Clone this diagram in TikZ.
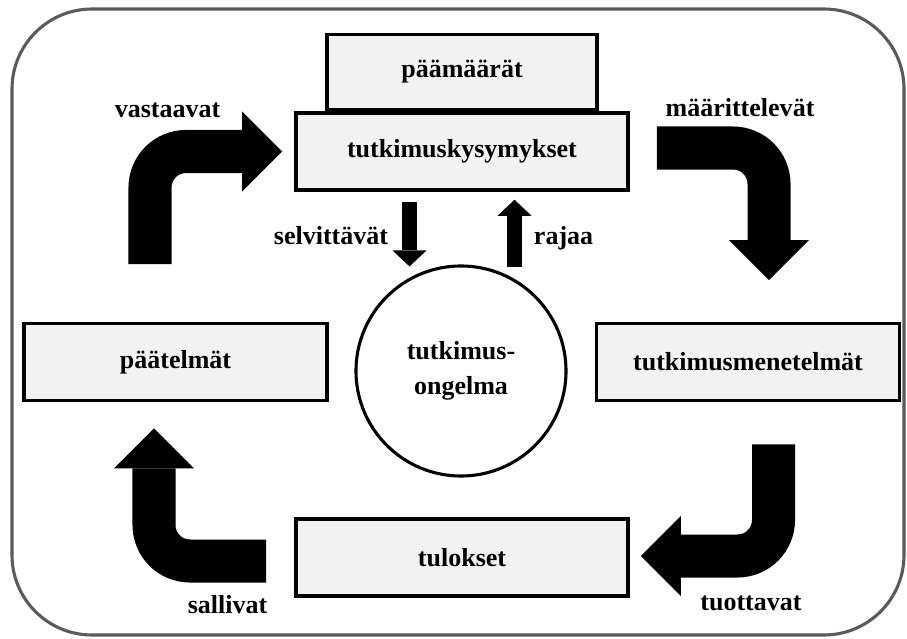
\documentclass[tikz,border=0pt]{standalone}
\usepackage{fontspec}
\setmainfont{Liberation Serif}
\usepackage{tikz}
\usetikzlibrary{calc}
\usetikzlibrary{arrows.meta}
\usetikzlibrary{positioning}
\definecolor{boxfill}{RGB}{242,242,242}
\definecolor{framegray}{RGB}{90,90,90}

\begin{document}
\begin{tikzpicture}[x=0.025cm, y=-0.025cm, font=\bfseries\fontsize{18.5}{25}\selectfont,
  stage/.style={draw, fill=boxfill, line width=2.5pt, minimum height=1.925cm, inner sep=0pt},
  bigbend/.style={line width=1.075cm, rounded corners=0.9cm, -{Triangle[width=2cm,length=1cm,line width=0pt]}},
  link/.style={line width=0.375cm, -{Triangle[width=0.85cm,length=0.4cm,line width=0pt]}}]
\useasboundingbox (0,0) rectangle (907,638);
\draw[framegray, line width=2.2pt, rounded corners=2cm] (12,9) rectangle (904,635);

\node[stage, minimum width=8.3cm] (questions) at (462,151.5) {tutkimuskysymykset};
\node[stage, minimum width=6.75cm, minimum height=1.875cm, anchor=south] (goals) at (questions.north) {päämäärät};
\node[stage, minimum width=7.575cm] (conclusions) at (175.5,362) {päätelmät};
\node[stage, minimum width=7.575cm] (methods) at (748,362) {tutkimusmenetelmät};
\node[stage, minimum width=8.3cm] (results) at (462,557.5) {tulokset};
\node[draw, circle, line width=2.2pt, minimum size=5.25cm, align=center] (problem) at (461,371) {tutkimus-\\ongelma};

\draw[bigbend] ($(conclusions.north)+(-25.5,-57.5)$) |- ($(questions.west)+(-12,0)$);
\draw[bigbend] ($(questions.east)+(27,-3.5)$) -| ($(methods.north)+(21,-41.5)$);
\draw[bigbend] ($(methods.south)+(25.5,42)$) |- ($(results.east)+(11,-1.5)$);
\draw[bigbend] ($(results.west)+(-28,3.5)$) -| ($(conclusions.south)+(-21.5,26)$);

\draw[link] ($(questions.south)+(-52.5,10)$) -- ($(problem.north)+(-51.5,2)$);
\draw[link] ($(problem.north)+(53.5,2.5)$) -- ($(questions.south)+(52.5,8)$);

\node[anchor=base] (answer) at (167.5,117) {vastaavat};
\node[anchor=base] (define) at (740,116) {määrittelevät};
\node[anchor=base] (produce) at (751,610) {tuottavat};
\node[anchor=base] (allow) at (227.5,613) {sallivat};
\node[anchor=base east] (solve) at (393,244) {selvittävät};
\node[anchor=base west] (limit) at (529,244) {rajaa};
\end{tikzpicture}
\end{document}
